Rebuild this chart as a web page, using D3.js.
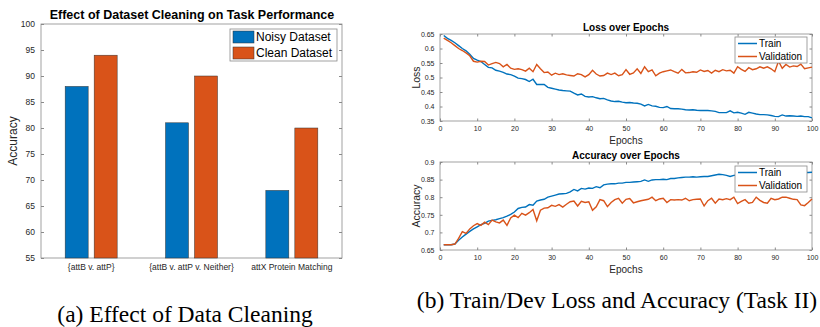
<!DOCTYPE html>
<html>
<head>
<meta charset="utf-8">
<script src="https://cdn.jsdelivr.net/npm/d3@7/dist/d3.min.js"></script>
<style>
  body { margin: 0; background: #fff; }
  svg { display: block; }
  .ax text { font-family: Helvetica, Arial, "Liberation Sans", sans-serif; fill: #262626; }
</style>
</head>
<body>
<svg id="chart" width="820" height="327"></svg>
<script>
// ---- data ----
var categories = ["{attB v. attP}", "{attB v. attP v. Neither}", "attX Protein Matching"];
var noisyAcc = [88, 81, 68];
var cleanAcc = [94, 90, 80];
var barSeries = ["Noisy Dataset", "Clean Dataset"];
var barTicks = [55, 60, 65, 70, 75, 80, 85, 90, 95, 100];

var epochs = d3.range(1, 101);
var lossTrain = [
  0.645, 0.635, 0.628, 0.620, 0.610, 0.600, 0.592, 0.580, 0.566, 0.560,
  0.555, 0.545, 0.535, 0.533, 0.525, 0.522, 0.518, 0.512, 0.510, 0.505,
  0.498, 0.496, 0.493, 0.486, 0.494, 0.476, 0.476, 0.476, 0.466, 0.463,
  0.460, 0.457, 0.455, 0.454, 0.453, 0.446, 0.440, 0.443, 0.435, 0.433,
  0.434, 0.430, 0.427, 0.428, 0.423, 0.419, 0.417, 0.418, 0.415, 0.413,
  0.414, 0.412, 0.411, 0.408, 0.402, 0.407, 0.402, 0.401, 0.397, 0.396,
  0.400, 0.393, 0.392, 0.392, 0.391, 0.389, 0.388, 0.389, 0.387, 0.386,
  0.386, 0.386, 0.385, 0.383, 0.379, 0.379, 0.379, 0.385, 0.378, 0.380,
  0.377, 0.373, 0.380, 0.377, 0.374, 0.372, 0.372, 0.371, 0.369, 0.366,
  0.365, 0.371, 0.367, 0.368, 0.367, 0.366, 0.367, 0.365, 0.365, 0.361
];
var lossVal = [
  0.636, 0.628, 0.620, 0.610, 0.600, 0.593, 0.585, 0.575, 0.556, 0.553,
  0.556, 0.555, 0.543, 0.548, 0.552, 0.548, 0.537, 0.545, 0.532, 0.528,
  0.530, 0.527, 0.522, 0.532, 0.520, 0.545, 0.530, 0.517, 0.519, 0.508,
  0.515, 0.510, 0.513, 0.509, 0.507, 0.505, 0.513, 0.510, 0.502, 0.510,
  0.525, 0.512, 0.505, 0.507, 0.515, 0.510, 0.515, 0.506, 0.510, 0.527,
  0.511, 0.516, 0.530, 0.514, 0.537, 0.520, 0.526, 0.506, 0.515, 0.520,
  0.523, 0.526, 0.520, 0.515, 0.528, 0.516, 0.517, 0.520, 0.518, 0.526,
  0.521, 0.524, 0.515, 0.525, 0.520, 0.527, 0.523, 0.525, 0.515, 0.537,
  0.528, 0.521, 0.534, 0.527, 0.530, 0.537, 0.532, 0.537, 0.530, 0.520,
  0.556, 0.532, 0.545, 0.536, 0.540, 0.538, 0.546, 0.530, 0.533, 0.536
];
var accTrain = [
  0.665, 0.665, 0.665, 0.667, 0.678, 0.687, 0.695, 0.703, 0.710, 0.716,
  0.722, 0.726, 0.732, 0.734, 0.736, 0.739, 0.742, 0.746, 0.751, 0.758,
  0.768, 0.771, 0.772, 0.779, 0.777, 0.789, 0.792, 0.794, 0.800, 0.803,
  0.806, 0.809, 0.810, 0.811, 0.815, 0.822, 0.818, 0.825, 0.823, 0.826,
  0.825, 0.830, 0.827, 0.835, 0.837, 0.838, 0.838, 0.840, 0.840, 0.842,
  0.842, 0.843, 0.844, 0.845, 0.849, 0.845, 0.849, 0.850, 0.850, 0.851,
  0.850, 0.853, 0.853, 0.855, 0.856, 0.857, 0.857, 0.858, 0.857, 0.858,
  0.859, 0.859, 0.861, 0.863, 0.865, 0.864, 0.862, 0.859, 0.862, 0.863,
  0.864, 0.865, 0.864, 0.866, 0.866, 0.866, 0.867, 0.867, 0.868, 0.868,
  0.867, 0.868, 0.867, 0.868, 0.868, 0.868, 0.869, 0.870, 0.870, 0.871
];
var accVal = [
  0.665, 0.665, 0.665, 0.667, 0.683, 0.702, 0.697, 0.710, 0.719, 0.725,
  0.720, 0.729, 0.722, 0.735, 0.730, 0.727, 0.735, 0.720, 0.741, 0.749,
  0.742, 0.754, 0.749, 0.756, 0.765, 0.733, 0.763, 0.769, 0.770, 0.777,
  0.774, 0.779, 0.772, 0.780, 0.787, 0.789, 0.775, 0.788, 0.785, 0.787,
  0.763, 0.773, 0.793, 0.790, 0.773, 0.785, 0.793, 0.797, 0.783, 0.794,
  0.796, 0.784, 0.787, 0.790, 0.792, 0.794, 0.800, 0.790, 0.795, 0.797,
  0.785, 0.793, 0.792, 0.793, 0.792, 0.797, 0.790, 0.793, 0.794, 0.795,
  0.775, 0.790, 0.797, 0.783, 0.795, 0.793, 0.796, 0.793, 0.800, 0.782,
  0.788, 0.793, 0.783, 0.785, 0.800, 0.791, 0.785, 0.783, 0.797, 0.793,
  0.795, 0.800, 0.800, 0.797, 0.794, 0.793, 0.778, 0.776, 0.785, 0.795
];
var epochTicks = [0, 10, 20, 30, 40, 50, 60, 70, 80, 90, 100];
var lossTicks = [0.35, 0.4, 0.45, 0.5, 0.55, 0.6, 0.65];
var accTicks = [0.65, 0.7, 0.75, 0.8, 0.85, 0.9];
var lineSeries = ["Train", "Validation"];

var blue = "#0072BD", orange = "#D95319", axisCol = "#262626";
var sans = "Helvetica, Arial, 'Liberation Sans', sans-serif";
var svg = d3.select("#chart");

// draws a matlab style box with inward ticks on all 4 sides
function drawBox(g, x, y, xTicks, yTicks, tickLen, fs, xFmt, yFmt) {
  var x0 = x.range()[0], x1 = x.range()[1], y0 = y.range()[0], y1 = y.range()[1];
  g.append("g").attr("class", "ax")
    .attr("transform", "translate(0," + y0 + ")")
    .call(d3.axisBottom(x).tickValues(xTicks).tickSizeInner(-tickLen).tickSizeOuter(0).tickPadding(tickLen + 3).tickFormat(xFmt))
    .call(function (a) { a.select(".domain").remove(); a.selectAll("text").style("font-size", fs + "px"); });
  g.append("g").attr("class", "ax")
    .attr("transform", "translate(" + x0 + ",0)")
    .call(d3.axisLeft(y).tickValues(yTicks).tickSizeInner(-tickLen).tickSizeOuter(0).tickPadding(tickLen + 3).tickFormat(yFmt))
    .call(function (a) { a.select(".domain").remove(); a.selectAll("text").style("font-size", fs + "px"); });
  // top + right ticks
  g.append("g").attr("transform", "translate(0," + y1 + ")")
    .call(d3.axisTop(x).tickValues(xTicks).tickSizeInner(-tickLen).tickSizeOuter(0).tickFormat(""))
    .call(function (a) { a.select(".domain").remove(); });
  g.append("g").attr("transform", "translate(" + x1 + ",0)")
    .call(d3.axisRight(y).tickValues(yTicks).tickSizeInner(-tickLen).tickSizeOuter(0).tickFormat(""))
    .call(function (a) { a.select(".domain").remove(); });
  g.selectAll(".tick line").attr("stroke", "#8a8a8a");
  g.append("rect").attr("x", x0).attr("y", y1).attr("width", x1 - x0).attr("height", y0 - y1)
    .attr("fill", "none").attr("stroke", "#8a8a8a").attr("stroke-width", 0.8);
}

function legend(g, x, y, w, h, items, fs, isBar) {
  var lg = g.append("g").attr("transform", "translate(" + x + "," + y + ")");
  lg.append("rect").attr("width", w).attr("height", h).attr("fill", "#fff").attr("stroke", "#8a8a8a").attr("stroke-width", 0.8);
  var rowH = h / items.length;
  items.forEach(function (it, i) {
    var cy = rowH * (i + 0.5);
    if (isBar) {
      lg.append("rect").attr("x", 3).attr("y", cy - 6).attr("width", 21).attr("height", 12)
        .attr("fill", it.color).attr("stroke", "#333").attr("stroke-width", 0.5);
    } else {
      lg.append("line").attr("x1", 3).attr("x2", 22).attr("y1", cy).attr("y2", cy)
        .attr("stroke", it.color).attr("stroke-width", 1.5);
    }
    lg.append("text").attr("x", isBar ? 26 : 24).attr("y", cy).attr("dy", "0.35em")
      .style("font-family", sans).style("font-size", fs + "px")
      .attr("fill", "#000").text(it.name);
  });
}

// ---- (a) grouped bar chart ----
var ga = svg.append("g");
var bx = d3.scaleLinear().domain([0.5, 3.5]).range([41, 342]);
var by = d3.scaleLinear().domain([55, 100]).range([258, 24]);
var barW = 23, barGap = 6;

drawBox(ga, bx, by, [], barTicks, 3, 8.5, null, d3.format("d"));
// category labels
ga.append("g").selectAll("text").data(categories).enter().append("text")
  .attr("x", function (d, i) { return bx(i + 1); }).attr("y", 270)
  .attr("text-anchor", "middle")
  .style("font-family", sans).style("font-size", "8.5px")
  .attr("fill", axisCol).text(function (d) { return d; });

var barData = [];
categories.forEach(function (c, i) {
  barData.push({ i: i, k: 0, v: noisyAcc[i], color: blue });
  barData.push({ i: i, k: 1, v: cleanAcc[i], color: orange });
});
ga.append("g").selectAll("rect").data(barData).enter().append("rect")
  .attr("x", function (d) { return bx(d.i + 1) + (d.k === 0 ? -barGap / 2 - barW : barGap / 2); })
  .attr("y", function (d) { return by(d.v); })
  .attr("width", barW)
  .attr("height", function (d) { return by(55) - by(d.v); })
  .attr("fill", function (d) { return d.color; })
  .attr("stroke", "#333").attr("stroke-width", 0.5);

ga.append("text").attr("x", 192).attr("y", 19).attr("text-anchor", "middle")
  .style("font-family", sans).style("font-size", "12.5px").style("font-weight", "bold")
  .text("Effect of Dataset Cleaning on Task Performance");
ga.append("text").attr("transform", "translate(17,141) rotate(-90)").attr("text-anchor", "middle")
  .style("font-family", sans).style("font-size", "12px")
  .attr("fill", axisCol).text("Accuracy");
legend(ga, 230, 29, 107, 32, [{ name: barSeries[0], color: blue }, { name: barSeries[1], color: orange }], 12, true);

// ---- (b) line charts ----
function linePanel(top, bottom, yDomain, yTicks, yFmt, trainVals, valVals, title, ylab, legY) {
  var g = svg.append("g");
  var x = d3.scaleLinear().domain([0, 100]).range([440, 812]);
  var y = d3.scaleLinear().domain(yDomain).range([bottom, top]);
  drawBox(g, x, y, epochTicks, yTicks, 2.5, 7, d3.format("d"), yFmt);
  var line = d3.line().x(function (d, i) { return x(epochs[i]); }).y(function (d) { return y(d); });
  g.append("path").datum(trainVals).attr("d", line).attr("fill", "none").attr("stroke", blue).attr("stroke-width", 1.4);
  g.append("path").datum(valVals).attr("d", line).attr("fill", "none").attr("stroke", orange).attr("stroke-width", 1.4);
  g.append("text").attr("x", 626).attr("y", top - 3.5).attr("text-anchor", "middle")
    .style("font-family", sans).style("font-size", "10px").style("font-weight", "bold")
    .text(title);
  g.append("text").attr("x", 626).attr("y", bottom + 23).attr("text-anchor", "middle")
    .style("font-family", sans).style("font-size", "10px")
    .attr("fill", axisCol).text("Epochs");
  g.append("text").attr("transform", "translate(420," + ((top + bottom) / 2) + ") rotate(-90)").attr("text-anchor", "middle")
    .style("font-family", sans).style("font-size", "10.5px")
    .attr("fill", axisCol).text(ylab);
  legend(g, 735, legY, 72, 26, [{ name: lineSeries[0], color: blue }, { name: lineSeries[1], color: orange }], 10, false);
}
linePanel(34, 121, [0.35, 0.65], lossTicks, function (d) { return d3.format("")(+d.toFixed(2)); }, lossTrain, lossVal, "Loss over Epochs", "Loss", 37);
linePanel(162, 250, [0.65, 0.9], accTicks, function (d) { return d3.format("")(+d.toFixed(2)); }, accTrain, accVal, "Accuracy over Epochs", "Accuracy", 166);

// ---- captions ----
svg.append("text").attr("x", 185).attr("y", 322).attr("text-anchor", "middle")
  .style("font-family", "'Liberation Serif', 'Times New Roman', serif").style("font-size", "23.5px")
  .text("(a) Effect of Data Cleaning");
svg.append("text").attr("x", 617).attr("y", 308).attr("text-anchor", "middle")
  .style("font-family", "'Liberation Serif', 'Times New Roman', serif").style("font-size", "23.5px")
  .text("(b) Train/Dev Loss and Accuracy (Task II)");
</script>
</body>
</html>
